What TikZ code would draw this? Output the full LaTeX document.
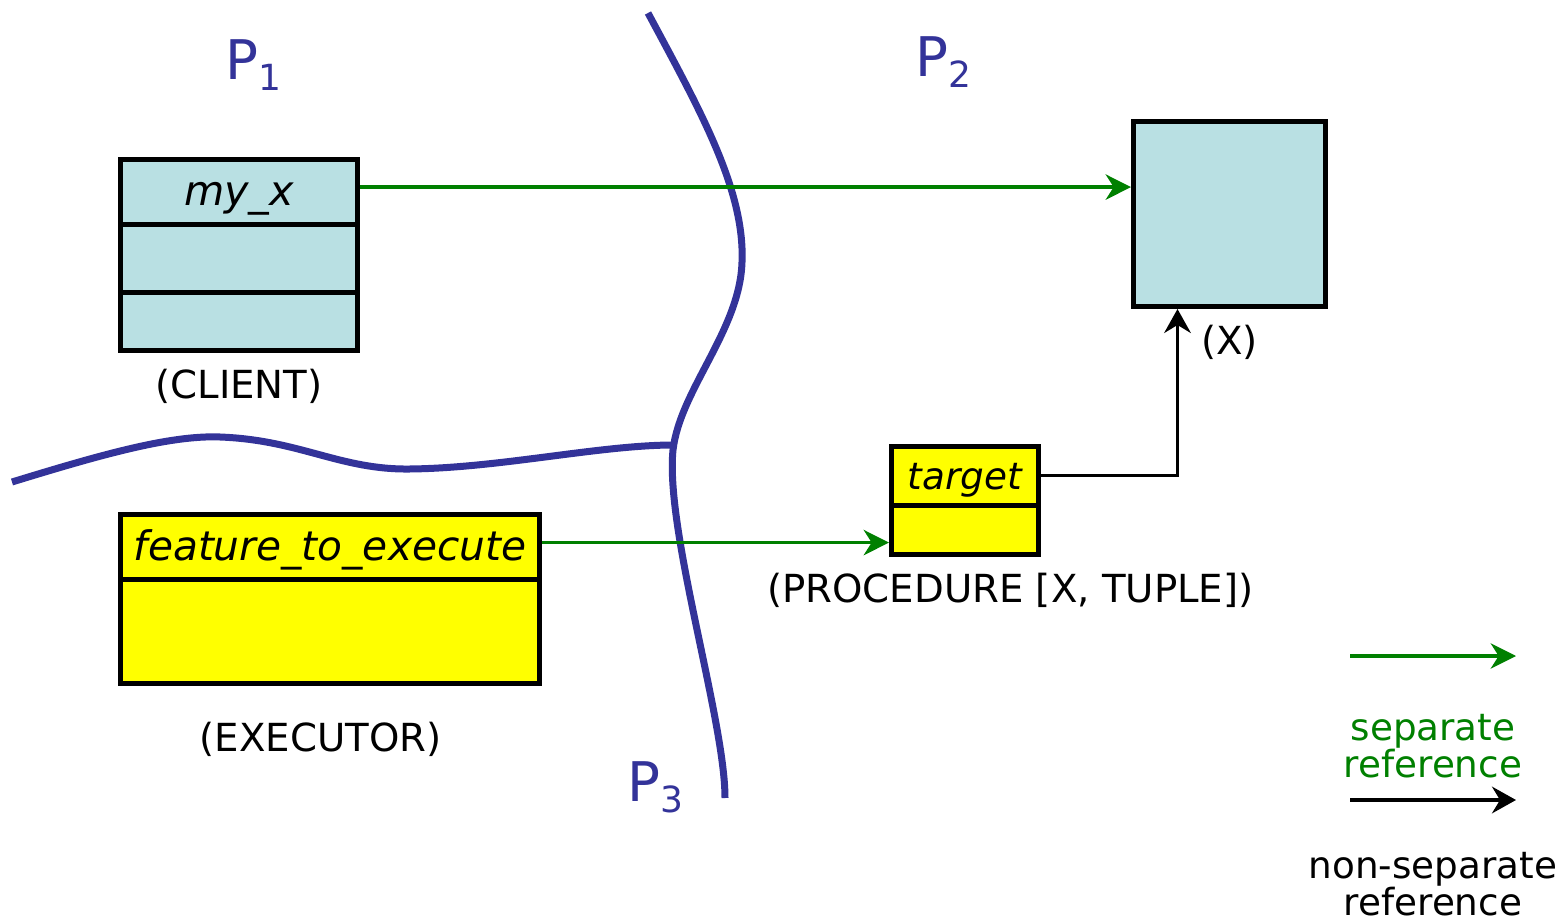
\documentclass[tikz,border=0pt]{standalone}
\usepackage{fontspec}
\setmainfont{DejaVu Sans}
\usetikzlibrary{arrows.meta,positioning,calc}
\definecolor{cB}{HTML}{333399}
\definecolor{cL}{HTML}{B9E0E3}
\definecolor{cG}{HTML}{008000}
\definecolor{cY}{HTML}{FFFF00}
\newcommand{\pname}[1]{{\fontsize{41}{41}\selectfont P}\raisebox{-8pt}{\fontsize{27}{27}\selectfont #1}}
\tikzset{
  cell/.style={draw=black,line width=3.75pt,inner sep=0pt,text height=20pt,text depth=0pt,
               font=\fontsize{31}{33}\selectfont\itshape},
  obj/.style={cell,fill=cL},
  proc/.style={cell,fill=cY},
  lbl/.style={inner sep=0pt,font=\fontsize{29}{26}\selectfont,align=center},
  leg/.style={lbl,font=\fontsize{28}{26}\selectfont},
  sepref/.style={-{Stealth[length=19pt,width=19pt,inset=6pt]},line width=2.5pt,cG},
  plainref/.style={-{Stealth[length=18pt,width=20pt,inset=6pt]},line width=2.4pt,black},
  border/.style={line width=5.25pt,cB},
  region/.style={text=cB,inner sep=0pt},
}

\begin{document}
\begin{tikzpicture}[x=0.75pt,y=-0.75pt]
  \useasboundingbox (0,0) rectangle (1564,923);

  % processor borders
  \draw[border] (648,13) .. controls (700,110) and (745,190) .. (742,262)
    .. controls (740,330) and (680,390) .. (673,450)
    .. controls (665,530) and (725,720) .. (725,798);
  \coordinate (join) at (674,445);
  \draw[border] (12,482) .. controls (100,455) and (170,435) .. (220,437)
    .. controls (300,440) and (340,470) .. (410,469)
    .. controls (500,468) and (600,445) .. (join);

  \node[region] (p1) at (253,65) {\pname{1}};
  \node[region] (p2) at (943,62) {\pname{2}};
  \node[region] (p3) at (655,787) {\pname{3}};

  % client object
  \node[obj,minimum width=178pt,minimum height=48.4pt] (clientA) at (239,191.75) {my\_x};
  \node[obj,minimum width=178pt,minimum height=51pt,below=-3.75pt of clientA] (clientB) {};
  \node[obj,minimum width=178pt,minimum height=43.9pt,below=-3.75pt of clientB] (clientC) {};
  \node[lbl,below=12pt of clientC] (clientL) {(CLIENT)};

  % X object
  \node[obj,minimum width=144pt,minimum height=138.75pt] (xbox) at (1229.5,214) {};
  \node[lbl,below=12pt of xbox] (xL) {(X)};

  % procedure object
  \node[proc,minimum width=110.25pt,minimum height=43.9pt,
        font=\fontsize{28}{30}\selectfont\itshape] (targetA) at (965,475.75) {target};
  \node[proc,minimum width=110.25pt,minimum height=37.1pt,below=-3.75pt of targetA] (targetB) {};
  \node[lbl,below=12pt of targetB,xshift=34pt] (targetL) {(PROCEDURE [X, TUPLE])};

  % executor object
  \node[proc,minimum width=314.25pt,minimum height=49.1pt,
        font=\fontsize{30.5}{32}\selectfont\itshape] (execA) at (330,547.25) {feature\_to\_execute};
  \node[proc,minimum width=314.25pt,minimum height=77.6pt,below=-3.75pt of execA] (execB) {};
  \node[lbl,below=27pt of execB,xshift=-7pt] (execL) {(EXECUTOR)};

  % references
  \draw[sepref] ([yshift=3.5pt]clientA.east) -- ([yshift=3.5pt]clientA.east -| xbox.west);
  \draw[sepref] ([yshift=3.5pt]execA.east) -- ([yshift=3.5pt]execA.east -| targetB.west);
  \draw[plainref] (targetA.east) -| ([xshift=-39pt]xbox.south);

  % legend
  \coordinate (legSepA) at (1350,656);
  \coordinate (legSepB) at (1516,656);
  \coordinate (legPlainA) at (1350,800);
  \coordinate (legPlainB) at (1516,800);
  \draw[sepref] (legSepA) -- (legSepB);
  \node[leg,text=cG] (legSepL) at (1433,746) {separate\\reference};
  \draw[plainref] (legPlainA) -- (legPlainB);
  \node[leg] (legPlainL) at (1433,884) {non-separate\\reference};
\end{tikzpicture}
\end{document}
